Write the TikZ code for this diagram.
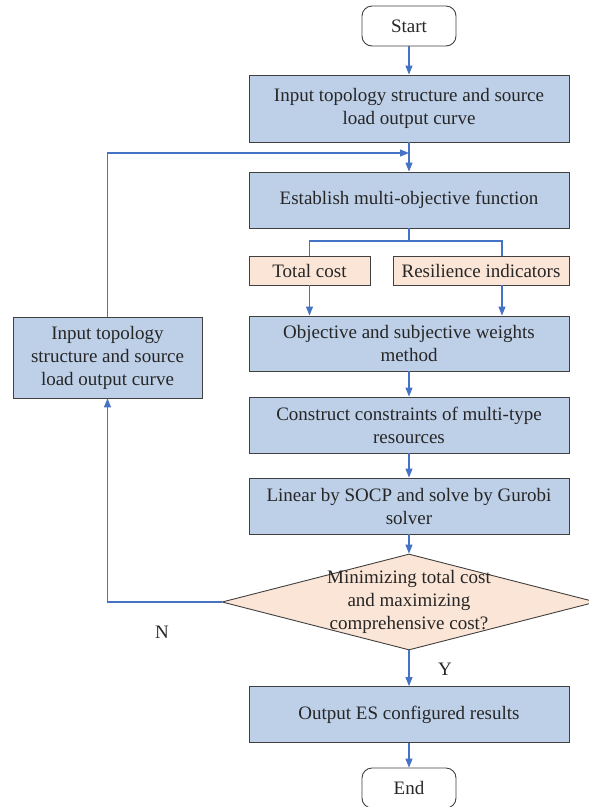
\documentclass[tikz,border=0pt]{standalone}
\usepackage{fontspec}
\setmainfont{Liberation Serif}
\newfontfamily\flowfont{Liberation Serif}
\usetikzlibrary{positioning,shapes.geometric,arrows.meta}
\definecolor{boxblue}{RGB}{190,208,232}
\definecolor{boxpeach}{RGB}{251,229,214}
\definecolor{flowblue}{RGB}{68,114,196}
\definecolor{edgegray}{RGB}{64,64,64}
\definecolor{txtgray}{RGB}{38,38,38}
\begin{document}
\begin{tikzpicture}[x=1pt, y=-1pt,
  every node/.style={font=\flowfont\fontsize{19}{23}\selectfont, text=txtgray},
  procbox/.style={draw=edgegray, line width=0.9pt, fill=boxblue, minimum width=320pt, minimum height=56pt, align=center, inner sep=2pt},
  tagbox/.style={draw=edgegray, line width=0.9pt, fill=boxpeach, minimum height=29pt, inner sep=2pt},
  termbox/.style={draw=edgegray, line width=0.9pt, rounded corners=10pt, minimum width=94pt, minimum height=40pt},
  decision/.style={draw=edgegray, line width=0.9pt, fill=boxpeach, diamond, minimum width=374pt, minimum height=96pt, inner sep=0pt},
  flow/.style={draw=flowblue, line width=1.1pt, -{Triangle[length=9pt,width=7pt]}},
  link/.style={draw=flowblue, line width=1.1pt}]
\useasboundingbox (0,0) rectangle (589,807);

\node[termbox] (start) at (409, 26) {Start};
\node[procbox, minimum height=67pt] (input) at (409, 108.5) {Input topology structure and source\\load output curve};
\node[procbox] (objfun) at (409, 200) {Establish multi-objective function};
\node[tagbox, minimum width=121pt] (cost) at (309.5, 270.5) {Total cost};
\node[tagbox, minimum width=176pt] (resil) at (481, 270.5) {Resilience indicators};
\node[procbox, minimum height=55pt] (weight) at (409, 343.5) {Objective and subjective weights\\method};
\node[procbox] (constr) at (409, 425) {Construct constraints of multi-type\\resources};
\node[procbox] (solve) at (409, 506) {Linear by SOCP and solve by Gurobi\\solver};
\node[decision, label={[align=center]center:Minimizing total cost\\and maximizing\\comprehensive cost?}] (check) at (409, 602) {};
\node[procbox, minimum width=189pt, minimum height=81pt] (update) at (107.5, 357.5) {Input topology\\structure and source\\load output curve};
\node[procbox] (output) at (409, 714.5) {Output ES configured results};
\node[termbox] (end) at (409, 788) {End};

\node (no) at (162, 632) {N};
\node (yes) at (445, 669) {Y};

\coordinate (merge) at (409, 153);
\coordinate (split) at (409, 241);

% main flow
\draw[flow] (start) -- (input);
\draw[flow] (input) -- (objfun);
\draw[link] (objfun) -- (split);
\draw[link] (split) -| (cost.north);
\draw[link] (split) -| ([xshift=21pt]resil.north);
\draw[flow] (cost.south) -- (cost.south |- weight.north);
\draw[flow] ([xshift=21pt]resil.south) -- ([xshift=21pt]resil.south |- weight.north);
\draw[flow] (weight) -- (constr);
\draw[flow] (constr) -- (solve);
\draw[flow] (solve) -- (check);
\draw[flow] (check) -- (output);
\draw[flow] (output) -- (end);

% loop back
\draw[flow] (check.west) -| (update.south);
\draw[flow] (update.north) |- (merge);

\end{tikzpicture}
\end{document}
